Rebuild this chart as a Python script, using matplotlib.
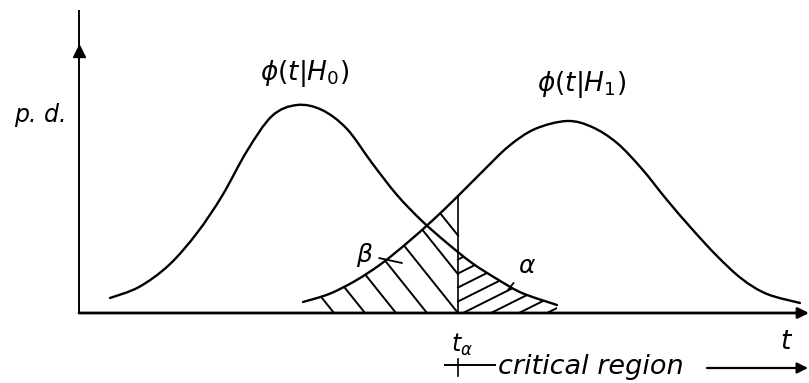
import numpy as np
import matplotlib
matplotlib.use("Agg")
import matplotlib.pyplot as plt
from matplotlib.path import Path
from matplotlib.patches import PathPatch

# curve readings: t position and probability density (arbitrary units)
h0_t = [0.31, 0.60, 0.90, 1.18, 1.43, 1.68, 1.93, 2.18, 2.43, 2.68,
        2.93, 3.18, 3.43, 3.68, 3.93, 4.18, 4.43, 4.78]
h0_pd = [0.15, 0.26, 0.48, 0.80, 1.17, 1.62, 1.97, 2.08, 2.03, 1.84,
         1.50, 1.18, 0.92, 0.70, 0.50, 0.34, 0.20, 0.08]
h1_t = [2.24, 2.50, 2.76, 3.02, 3.28, 3.54, 3.79, 4.04, 4.30, 4.56,
        4.88, 5.13, 5.38, 5.63, 5.88, 6.13, 6.38, 6.63, 6.88, 7.21]
h1_pd = [0.11, 0.19, 0.32, 0.49, 0.70, 0.93, 1.17, 1.42, 1.67, 1.84,
         1.92, 1.86, 1.70, 1.44, 1.13, 0.84, 0.57, 0.34, 0.19, 0.10]
t_alpha = 3.79

LW = 1.7


def smooth_path(xs, ys, close=False):
    """Catmull-Rom style bezier through the read points."""
    pts = np.column_stack([xs, ys])
    ext = np.vstack([pts[0], pts, pts[-1]])
    verts = [pts[0]]
    codes = [Path.MOVETO]
    for i in range(len(pts) - 1):
        p0, p1, p2, p3 = ext[i], ext[i + 1], ext[i + 2], ext[i + 3]
        verts += [p1 + (p2 - p0) / 6, p2 - (p3 - p1) / 6, p2]
        codes += [Path.CURVE4] * 3
    if close:
        verts += [(xs[-1], 0), (xs[0], 0), (xs[0], ys[0])]
        codes += [Path.LINETO, Path.LINETO, Path.CLOSEPOLY]
    return Path(verts, codes)


fig = plt.figure(figsize=(8.09, 3.83), dpi=100)
ax = fig.add_axes([0, 0, 1, 1])
ax.set_xlim(-0.79, 7.30)
ax.set_ylim(-0.70, 3.13)
ax.axis("off")

# axes
ax.plot([0, 0], [0, 3.03], color="k", lw=1.4, solid_capstyle="butt")
ax.plot([0], [2.62], marker="^", ms=9, color="k")
ax.annotate("", xy=(7.30, 0), xytext=(0, 0),
            arrowprops=dict(arrowstyle="-|>", lw=2.0, color="k",
                            mutation_scale=16, shrinkA=0, shrinkB=0))

# curves
for xs, ys in [(h0_t, h0_pd), (h1_t, h1_pd)]:
    ax.add_patch(PathPatch(smooth_path(xs, ys), fill=False, lw=LW,
                           edgecolor="k", capstyle="round"))

# t_alpha line
top = np.interp(t_alpha, h1_t, h1_pd)
ax.plot([t_alpha, t_alpha], [0, top], color="k", lw=1.2)

# beta hatching: under H1, left of t_alpha
clip_b = PathPatch(smooth_path(h1_t, h1_pd, close=True), fill=False,
                   lw=0, edgecolor="none")
ax.add_patch(clip_b)
slope_b = 1.25
for k in range(-6, 10):
    xb = t_alpha - k * 0.31
    if xb > t_alpha:
        x0, y0 = t_alpha, slope_b * (xb - t_alpha)
    else:
        x0, y0 = xb, 0
    ln, = ax.plot([x0, xb - 3], [y0, 3 * slope_b], color="k", lw=1.4)
    ln.set_clip_path(clip_b)

# alpha hatching: under H0, right of t_alpha
clip_a = PathPatch(smooth_path(h0_t, h0_pd, close=True), fill=False,
                   lw=0, edgecolor="none")
ax.add_patch(clip_a)
slope_a = 0.5
for k in range(-6, 8):
    xb = t_alpha + 0.05 + k * 0.28
    if xb < t_alpha:
        x0, y0 = t_alpha, slope_a * (t_alpha - xb)
    else:
        x0, y0 = xb, 0
    ln, = ax.plot([x0, xb + 3], [y0, 3 * slope_a], color="k", lw=1.4)
    ln.set_clip_path(clip_a)

# labels
txt = dict(color="k", ha="center", va="center")
ax.text(-0.39, 1.98, "p. d.", fontsize=17, style="italic", **txt)
ax.text(2.26, 2.40, r"$\phi(t|H_0)$", fontsize=19, **txt)
ax.text(5.03, 2.29, r"$\phi(t|H_1)$", fontsize=19, **txt)
ax.text(7.08, -0.29, r"$t$", fontsize=19, **txt)

ax.annotate(r"$\beta$", xy=(3.23, 0.50), xytext=(2.86, 0.58), fontsize=18,
            ha="center", va="center",
            arrowprops=dict(arrowstyle="-", lw=1.3, color="k", shrinkB=0))
ax.annotate(r"$\alpha$", xy=(4.29, 0.23), xytext=(4.48, 0.47), fontsize=18,
            ha="center", va="center",
            arrowprops=dict(arrowstyle="-", lw=1.3, color="k", shrinkB=0))

# critical region marker
ax.text(3.72, -0.32, r"$t_\alpha$", fontsize=17, ha="left", va="center")
ax.plot([3.66, 4.16], [-0.52, -0.52], color="k", lw=1.4)
ax.plot([t_alpha, t_alpha], [-0.46, -0.63], color="k", lw=1.2)
ax.text(4.19, -0.54, "critical region", fontsize=19.5, style="italic",
        ha="left", va="center")
ax.annotate("", xy=(7.29, -0.55), xytext=(6.28, -0.55),
            arrowprops=dict(arrowstyle="-|>", lw=1.6, color="k",
                            mutation_scale=16, shrinkA=0, shrinkB=0))

fig.savefig("out.png", dpi=100)
